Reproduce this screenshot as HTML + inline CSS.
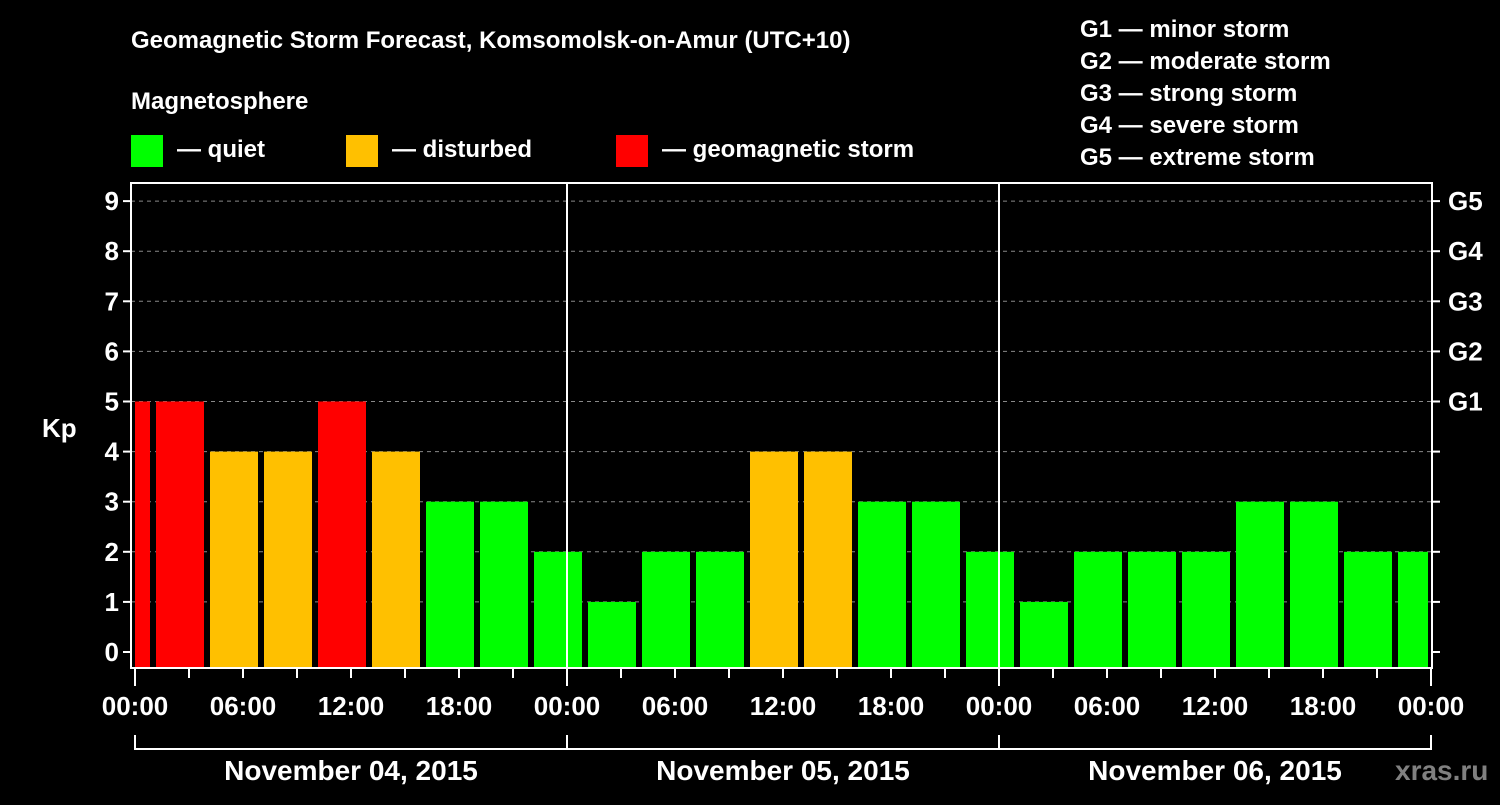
<!DOCTYPE html>
<html><head><meta charset="utf-8"><style>
html,body{margin:0;padding:0;background:#000;}
svg text{font-family:"Liberation Sans",Arial,sans-serif;font-weight:bold;fill:#fff;}
</style></head><body>
<svg id="chart" width="1500" height="800" viewBox="0 0 1500 800" xmlns="http://www.w3.org/2000/svg">
<rect width="1500" height="800" fill="#000"/>
<text x="131" y="48" font-size="24">Geomagnetic Storm Forecast, Komsomolsk-on-Amur (UTC+10)</text>
<text x="131" y="109" font-size="24">Magnetosphere</text>
<g><rect x="131" y="135" width="32" height="32" fill="#00ff00"/><text x="177" y="157" font-size="24">— quiet</text></g>
<g><rect x="346" y="135" width="32" height="32" fill="#ffc000"/><text x="392" y="157" font-size="24">— disturbed</text></g>
<g><rect x="616" y="135" width="32" height="32" fill="#ff0000"/><text x="662" y="157" font-size="24">— geomagnetic storm</text></g>
<g font-size="24">
<text x="1080" y="37">G1 — minor storm</text>
<text x="1080" y="69">G2 — moderate storm</text>
<text x="1080" y="101">G3 — strong storm</text>
<text x="1080" y="133">G4 — severe storm</text>
<text x="1080" y="165">G5 — extreme storm</text>
</g>
<text x="42" y="437" font-size="26">Kp</text>
<text x="1395" y="780" font-size="28" style="fill:#808080">xras.ru</text>
<g id="grid"></g><g id="bars"></g><g id="axes"></g>
</svg>
<script>
const kpValues=[5,5,4,4,5,4,3,3,2,1,2,2,4,4,3,3,2,1,2,2,2,3,3,2,2];
const yTicks=[0,1,2,3,4,5,6,7,8,9];
const gLabels=["G1","G2","G3","G4","G5"];
const xTickLabels=["00:00","06:00","12:00","18:00","00:00","06:00","12:00","18:00","00:00","06:00","12:00","18:00","00:00"];
const dayLabels=["November 04, 2015","November 05, 2015","November 06, 2015"];
const NS="http://www.w3.org/2000/svg";
const L=131,R=1432,T=183,B=668,X0=135,PXH=18;
function y(v){return 652-v*50.1;}
function x(h){return X0+h*PXH;}
function mk(tag,attrs,parent,txt){const e=document.createElementNS(NS,tag);for(const k in attrs)e.setAttribute(k,attrs[k]);if(txt!==undefined)e.textContent=txt;document.getElementById(parent).appendChild(e);return e;}
yTicks.forEach(v=>{
 if(v>0){const g=mk('line',{x1:L,x2:R,y1:y(v),y2:y(v),stroke:'#888','stroke-dasharray':'4,4','stroke-width':1},'grid');
 
 }
 const t=mk('line',{x1:L-8,x2:L,y1:y(v),y2:y(v),stroke:'#fff','stroke-width':2},'axes');
 
 
 const rt=mk('line',{x1:R,x2:R+8,y1:y(v),y2:y(v),stroke:'#fff','stroke-width':2},'axes');
 
 
 const lb=mk('text',{x:L-12,y:y(v)+9,'font-size':26,'text-anchor':'end'},'axes',String(v));
 
 
});
gLabels.forEach((g,i)=>{
 const t=mk('text',{x:R+16,y:y(5+i)+9,'font-size':26},'axes',g);
 
 
});
kpValues.forEach((v,i)=>{
 let s=x(3*i-2)+3,e=x(3*i+1)-3;
 s=Math.max(s,L+4);e=Math.min(e,R-4);
 const c=v>=5?'#ff0000':(v>=4?'#ffc000':'#00ff00');
 const r=mk('rect',{x:s,y:y(v),width:e-s,height:B-y(v),fill:c},'bars');
 
 
});
const fr=mk('rect',{x:L,y:T,width:R-L,height:B-T,fill:'none',stroke:'#fff','stroke-width':2},'axes');


[1,2].forEach(d=>{
 const l=mk('line',{x1:x(24*d),x2:x(24*d),y1:T,y2:B,stroke:'#fff','stroke-width':2},'axes');
 
 
});
for(let k=0;k<=24;k++){
 const t=mk('line',{x1:x(3*k),x2:x(3*k),y1:B,y2:B+(k%8==0?18:10),stroke:'#fff','stroke-width':2},'axes');
 
 
}
xTickLabels.forEach((s,i)=>{
 const t=mk('text',{x:x(6*i),y:715,'font-size':26,'text-anchor':'middle'},'axes',s);
 
 
});
const br=mk('polyline',{points:`${x(0)},735 ${x(0)},749 ${x(72)},749 ${x(72)},735`,fill:'none',stroke:'#fff','stroke-width':2},'axes');


dayLabels.forEach((s,i)=>{
 const t=mk('line',{x1:x(24*i),x2:x(24*i),y1:735,y2:749,stroke:'#fff','stroke-width':2},'axes');
 
 
 const d=mk('text',{x:x(24*i+12),y:780,'font-size':28,'text-anchor':'middle'},'axes',s);
 
 
});
</script>
</body></html>
